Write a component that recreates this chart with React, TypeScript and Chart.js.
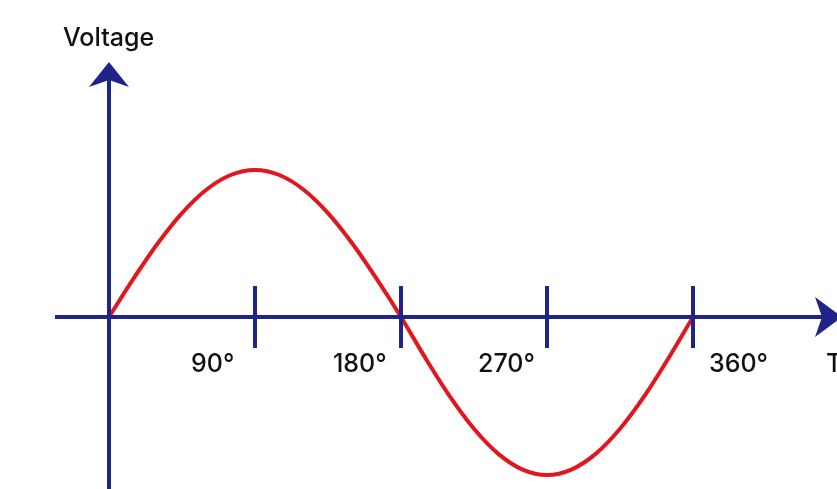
import React, { useEffect, useRef } from "react";
import { Chart, registerables } from "chart.js";

Chart.register(...registerables);

// Phase angle (degrees) and voltage
const degrees = [0, 15, 30, 45, 60, 75, 90, 105, 120, 135, 150, 165, 180, 195, 210, 225, 240, 255, 270, 285, 300, 315, 330, 345, 360];
const voltage = [0, 25.9, 50, 70.7, 86.6, 96.6, 100, 96.6, 86.6, 70.7, 50, 25.9, 0, -27.8, -53.8, -76.0, -93.1, -103.8, -107.5, -103.8, -93.1, -76.0, -53.8, -27.8, 0];

const tickDegrees = [90, 180, 270, 360];
const tickLabels = ["90°", "180°", "270°", "360°"];
const yAxisTitle = "Voltage";
const xAxisTitle = "Time";

const AXIS = "#1e2488";
const WAVE = "#e2161d";
const TEXT = "#111111";
const FONT = "500 25px Inter, 'Noto Sans', sans-serif";
// label left-edge offsets relative to their tick mark (px)
const LABEL_DX = [-64, -68, -69, 16];

const axesPlugin = {
  id: "customAxes",
  afterDatasetsDraw(chart: any) {
    const { ctx } = chart;
    const xs = chart.scales.x;
    const ys = chart.scales.y;
    const ox = xs.getPixelForValue(0);
    const oy = ys.getPixelForValue(0);
    ctx.save();
    ctx.strokeStyle = AXIS;
    ctx.fillStyle = AXIS;
    ctx.lineWidth = 4;
    ctx.lineCap = "butt";
    ctx.beginPath();
    ctx.moveTo(ox, chart.height);
    ctx.lineTo(ox, 78);
    ctx.stroke();
    ctx.beginPath();
    ctx.moveTo(55, oy);
    ctx.lineTo(826, oy);
    ctx.stroke();
    ctx.beginPath();
    ctx.moveTo(ox, 62);
    ctx.lineTo(ox + 20, 87);
    ctx.lineTo(ox, 80);
    ctx.lineTo(ox - 20, 87);
    ctx.closePath();
    ctx.fill();
    ctx.beginPath();
    ctx.moveTo(842, oy);
    ctx.lineTo(815, oy - 20);
    ctx.lineTo(822, oy);
    ctx.lineTo(815, oy + 20);
    ctx.closePath();
    ctx.fill();
    tickDegrees.forEach((d) => {
      const px = xs.getPixelForValue(d);
      ctx.beginPath();
      ctx.moveTo(px, oy - 31);
      ctx.lineTo(px, oy + 31);
      ctx.stroke();
    });
    ctx.fillStyle = TEXT;
    ctx.font = FONT;
    ctx.textBaseline = "alphabetic";
    ctx.textAlign = "left";
    tickDegrees.forEach((d, i) => {
      const px = xs.getPixelForValue(d);
      ctx.fillText(tickLabels[i], px + LABEL_DX[i], 372);
    });
    ctx.fillText(xAxisTitle, 826, 372);
    ctx.fillText(yAxisTitle, 63, 46);
    ctx.restore();
  },
};

export default function App() {
  const ref = useRef<HTMLCanvasElement>(null);
  useEffect(() => {
    if (!ref.current) return;
    const chart = new Chart(ref.current, {
      type: "line",
      data: {
        datasets: [
          {
            data: degrees.map((d, i) => ({ x: d, y: voltage[i] })),
            borderColor: WAVE,
            borderWidth: 4,
            pointRadius: 0,
            cubicInterpolationMode: "monotone",
            fill: false,
          },
        ],
      },
      options: {
        animation: false,
        responsive: false,
        maintainAspectRatio: false,
        layout: { padding: 0 },
        plugins: { legend: { display: false }, tooltip: { enabled: false }, title: { display: false } },
        scales: {
          x: { type: "linear", min: -67.19, max: 448.77, display: false },
          y: { type: "linear", min: -117.0, max: 215.65, display: false },
        },
      },
      plugins: [axesPlugin],
    });
    return () => chart.destroy();
  }, []);
  return (
    <div style={{ position: "fixed", left: 0, top: 0, width: 837, height: 489, background: "#fff" }}>
      <canvas ref={ref} width={837} height={489} />
    </div>
  );
}
